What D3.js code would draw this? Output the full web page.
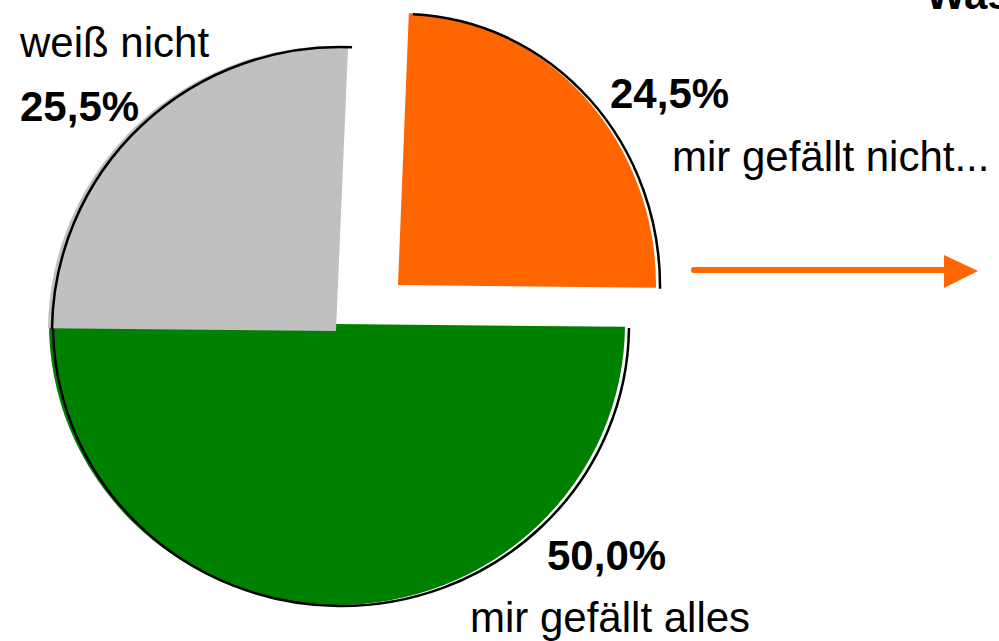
<!DOCTYPE html>
<html>
<head>
<meta charset="utf-8">
<script src="https://cdn.jsdelivr.net/npm/d3@7"></script>
<style>
  body { margin: 0; background: #fff; }
  svg { display: block; font-family: "Liberation Sans", Arial, sans-serif; }
</style>
</head>
<body>
<div id="chart"></div>
<script>
// data
var categories = ["mir gefällt nicht...", "mir gefällt alles", "weiß nicht"];
var values = [24.5, 50.0, 25.5];
var valueLabels = ["24,5%", "50,0%", "25,5%"];
var colors = ["#ff6600", "#008000", "#c0c0c0"];
var title = "Was";

var width = 999,
  height = 641;

var svg = d3
  .select("#chart")
  .append("svg")
  .attr("width", width)
  .attr("height", height);

// exploded slices: each one has its own corner point and radii
var slicePos = [
  { cx: 398, cy: 285, rx: 258, ry: 272 },
  { cx: 337, cy: 324, rx: 288, ry: 281 },
  { cx: 336, cy: 331, rx: 288, ry: 285 },
];

var start = (2.4 * Math.PI) / 180;
var pie = d3
  .pie()
  .sort(null)
  .startAngle(start)
  .endAngle(start + 2 * Math.PI);
var arcs = pie(values);

var arc = d3.arc().innerRadius(0).outerRadius(1);

var slices = svg
  .selectAll("g.slice")
  .data(arcs)
  .enter()
  .append("g")
  .attr("class", "slice");

slices
  .append("path")
  .attr("d", arc)
  .attr("transform", function (d, i) {
    var p = slicePos[i];
    return "translate(" + p.cx + "," + p.cy + ") scale(" + p.rx + "," + p.ry + ")";
  })
  .style("fill", function (d, i) {
    return colors[i];
  });

// black rim on the outer edge, a bit offset to the right
slices
  .append("path")
  .attr("d", function (d) {
    var pth = d3.path();
    pth.arc(0, 0, 1, d.startAngle - Math.PI / 2, d.endAngle - Math.PI / 2);
    return pth.toString();
  })
  .attr("transform", function (d, i) {
    var p = slicePos[i];
    return (
      "translate(" + (p.cx + 4) + "," + (p.cy + 1) + ") scale(" + p.rx + "," + p.ry + ")"
    );
  })
  .attr("vector-effect", "non-scaling-stroke")
  .style("fill", "none")
  .style("stroke", "#000")
  .style("stroke-width", 2.5);

// labels
var labelPos = [
  { vx: 610, vy: 108, cx: 672, cy: 171 },
  { vx: 547, vy: 570, cx: 470, cy: 632 },
  { vx: 20, vy: 121, cx: 20, cy: 57 },
];

svg
  .selectAll("text.value")
  .data(valueLabels)
  .enter()
  .append("text")
  .attr("class", "value")
  .attr("x", function (d, i) {
    return labelPos[i].vx;
  })
  .attr("y", function (d, i) {
    return labelPos[i].vy;
  })
  .style("font-size", "42px")
  .style("font-weight", "bold")
  .style("fill", "#000")
  .text(function (d) {
    return d;
  });

svg
  .selectAll("text.cat")
  .data(categories)
  .enter()
  .append("text")
  .attr("class", "cat")
  .attr("x", function (d, i) {
    return labelPos[i].cx;
  })
  .attr("y", function (d, i) {
    return labelPos[i].cy;
  })
  .style("font-size", "42px")
  .style("fill", "#000")
  .text(function (d) {
    return d;
  });

// title, cut off at the top edge as in the source
svg
  .append("text")
  .attr("x", 926)
  .attr("y", 9)
  .style("font-size", "42px")
  .style("font-weight", "bold")
  .text(title);

// orange arrow
svg
  .append("line")
  .attr("x1", 694)
  .attr("y1", 270)
  .attr("x2", 946)
  .attr("y2", 270)
  .style("stroke", "#ff6600")
  .style("stroke-width", 6)
  .style("stroke-linecap", "round");

svg
  .append("path")
  .attr("d", "M944,255 L978,271 L944,288 Z")
  .style("fill", "#ff6600");
</script>
</body>
</html>
